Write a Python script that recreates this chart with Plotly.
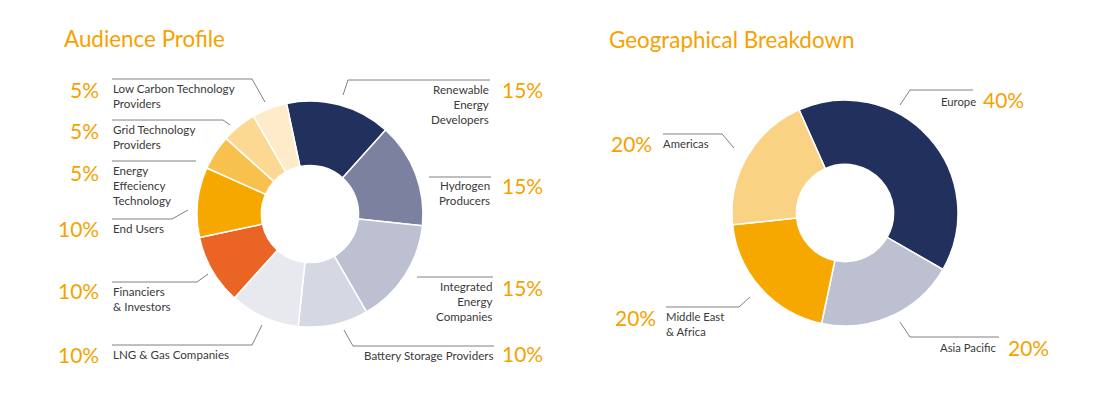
import plotly.graph_objects as go

# page body has an 8px margin; the figure is placed at (8, 8)
OFF = 8
W, H = 1106 - 2 * OFF, 395 - 2 * OFF

# ---------------- data ----------------
audience_labels = ["Renewable Energy Developers", "Hydrogen Producers", "Integrated Energy Companies",
                   "Battery Storage Providers", "LNG & Gas Companies", "Financiers & Investors",
                   "End Users", "Energy Effeciency Technology", "Grid Technology Providers",
                   "Low Carbon Technology Providers"]
audience_values = [15, 15, 15, 10, 10, 10, 10, 5, 5, 5]
audience_text = ["Renewable<br>Energy<br>Developers", "Hydrogen<br>Producers", "Integrated<br>Energy<br>Companies",
                 "Battery Storage Providers", "LNG & Gas Companies", "Financiers<br>& Investors",
                 "End Users", "Energy<br>Effeciency<br>Technology", "Grid Technology<br>Providers",
                 "Low Carbon Technology<br>Providers"]

geo_labels = ["Europe", "Asia Pacific", "Middle East & Africa", "Americas"]
geo_values = [40, 20, 20, 20]
geo_text = ["Europe", "Asia Pacific", "Middle East<br>& Africa", "Americas"]

titles = ["Audience Profile", "Geographical Breakdown"]

# ---------------- styles ----------------
audience_colors = ["#22305e", "#7b819f", "#bcc0d0", "#d5d7e2", "#e8e9ef",
                   "#ea6426", "#f6a800", "#f8c14e", "#fbd993", "#fdebca"]
geo_colors = ["#22305e", "#bcc0d0", "#f6a800", "#f9d283"]
ORANGE = "#f5a200"
TEXT = "#3a3a3a"
LINE = "#808080"
FONT = "Lato"

# label layout per slice (page pixel positions): side, label x, label y, pct x, pct y, leader points
audience_layout = [
    ("R", 490, 104, 501, 89, [(490, 80), (348, 80), (343, 95)]),
    ("R", 491, 193, 501, 185, [(491, 177), (429, 177)]),
    ("R", 493, 301, 501, 287, [(493, 277), (417, 277)]),
    ("R", 494, 355, 501, 353, [(494, 346), (353, 346), (344, 330)]),
    ("L", 112, 354, 100, 354, [(112, 345), (252, 345), (262, 325)]),
    ("L", 112, 299, 100, 290, [(112, 282), (197, 282), (208, 274)]),
    ("L", 112, 228, 100, 228, [(112, 219), (172, 219), (188, 210)]),
    ("L", 112, 185, 100, 172, [(112, 161), (196, 161)]),
    ("L", 112, 137, 100, 130, [(112, 120), (223, 120), (230, 125)]),
    ("L", 112, 96, 100, 90, [(112, 79), (252, 79), (265, 102)]),
]
geo_layout = [
    ("R", 977, 102, 982, 100, [(973, 90), (910, 90), (900, 105)]),
    ("R", 998, 347, 1007, 347, [(999, 337), (910, 337), (900, 322)]),
    ("L", 665, 324, 657, 317, [(666, 307), (739, 307), (750, 297)]),
    ("L", 662, 144, 653, 143, [(663, 134), (722, 134), (734, 148)]),
]


def px(x):
    return (x - OFF) / W


def py(y):
    return 1 - (y - OFF) / H


fig = go.Figure()

fig.add_trace(go.Pie(
    labels=audience_labels, values=audience_values, sort=False, direction="clockwise",
    rotation=-12, hole=0.43, textinfo="none", hoverinfo="label+percent",
    marker=dict(colors=audience_colors, line=dict(color="white", width=1.5)),
    domain=dict(x=[px(197), px(423)], y=[py(327), py(101)]), showlegend=False,
))
fig.add_trace(go.Pie(
    labels=geo_labels, values=geo_values, sort=False, direction="clockwise",
    rotation=-24, hole=0.43, textinfo="none", hoverinfo="label+percent",
    marker=dict(colors=geo_colors, line=dict(color="white", width=1.5)),
    domain=dict(x=[px(732), px(958)], y=[py(326), py(100)]), showlegend=False,
))

annotations = []
shapes = []


def add_labels(texts, values, layout, size):
    for t, v, (side, lx, ly, qx, qy, pts) in zip(texts, values, layout):
        annotations.append(dict(
            x=px(lx), y=py(ly), xref="paper", yref="paper", text=t, showarrow=False,
            xanchor="left" if side == "L" else "right", yanchor="middle",
            align="left" if side == "L" else "right",
            font=dict(family=FONT, size=size, color=TEXT), borderpad=0))
        annotations.append(dict(
            x=px(qx), y=py(qy), xref="paper", yref="paper", text=f"{v}%", showarrow=False,
            xanchor="right" if side == "L" else "left", yanchor="middle",
            font=dict(family=FONT, size=21, color=ORANGE), borderpad=0))
        path = "M " + " L ".join(f"{px(a)},{py(b)}" for a, b in pts)
        shapes.append(dict(type="path", path=path, xref="paper", yref="paper",
                           line=dict(color=LINE, width=1)))


add_labels(audience_text, audience_values, audience_layout, 11.6)
add_labels(geo_text, geo_values, geo_layout, 11.3)

for t, x, y in zip(titles, [63, 608], [38, 39]):
    annotations.append(dict(x=px(x), y=py(y), xref="paper", yref="paper", text=t, showarrow=False,
                            xanchor="left", yanchor="middle",
                            font=dict(family=FONT, size=22.4, color=ORANGE), borderpad=0))

fig.update_layout(
    width=W, height=H, autosize=False,
    margin=dict(l=0, r=0, t=0, b=0),
    paper_bgcolor="white", plot_bgcolor="white",
    annotations=annotations, shapes=shapes,
)

fig.write_html("out.html")
